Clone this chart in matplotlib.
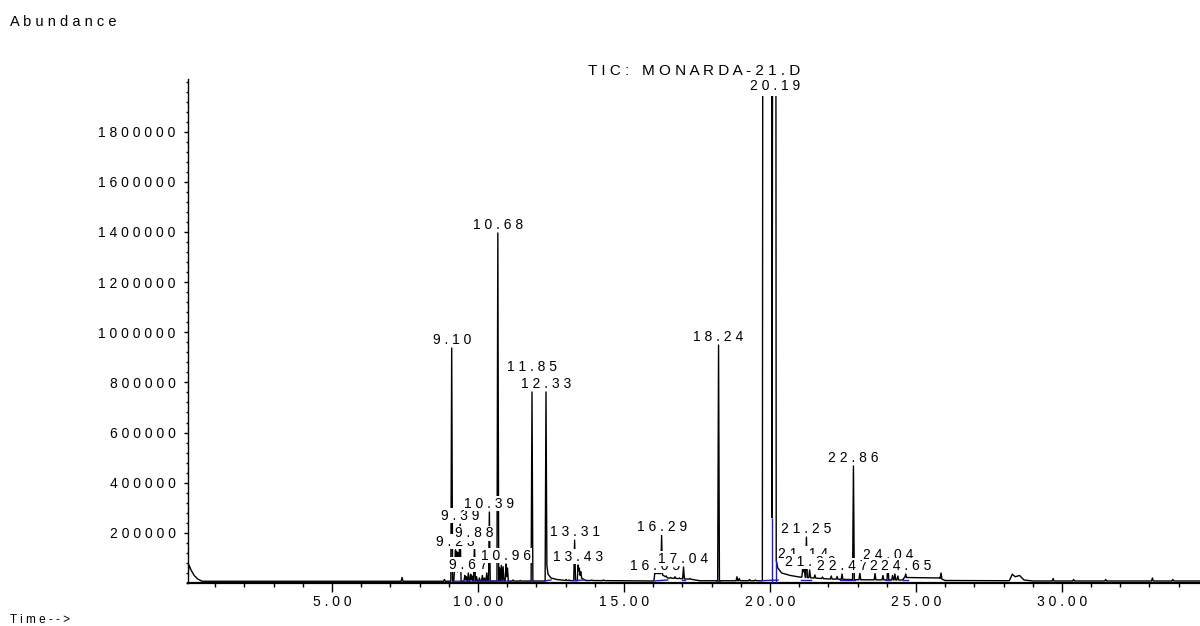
import numpy as np
import matplotlib.pyplot as plt
from matplotlib.ticker import FuncFormatter, MultipleLocator

plt.rcParams["font.family"] = ["Liberation Sans", "DejaVu Sans"]

# integrated peaks: retention time (min) and apex abundance
peak_rt = [9.10, 9.23, 9.39, 9.67, 9.88, 10.39, 10.68, 10.96, 11.85, 12.33,
           13.31, 13.43, 16.05, 16.29, 17.04, 18.24, 21.14, 21.25, 21.36,
           22.47, 22.86, 24.04, 24.28, 24.65]
peak_height = [937000, 132000, 235000, 40000, 164000, 283000, 1396000, 76000,
               762000, 762000, 171000, 72000, 36000, 190000, 64000, 949000,
               84000, 183000, 52000, 36000, 467000, 80000, 36000, 36000]
peak_label = ["9.10", "9.23", "9.39", "9.67", "9.88", "10.39", "10.68", "10.96",
              "11.85", "12.33", "13.31", "13.43", "16.05", "16.29", "17.04",
              "18.24", "21.14", "21.25", "21.36", "22.47", "22.86", "24.04",
              "24.28", "24.65"]

# overloaded main peak, apex above the plotted range
main_rt = 20.19
main_label = "20.19"

# small unlabelled peaks
minor_rt = [7.40, 8.85, 9.20, 9.27, 9.32, 9.36, 9.55, 9.60, 9.75, 9.80, 9.95,
            10.05, 10.15, 10.22, 10.30, 10.74, 10.80, 10.86, 11.01, 11.20,
            11.45, 13.02, 13.12, 13.47, 13.52, 13.90, 14.30, 16.45, 16.60,
            16.75, 16.90, 17.25, 18.87, 18.95, 19.30, 19.50, 21.12, 21.18,
            21.54, 21.80, 22.10, 22.30, 23.08, 23.60, 23.87, 24.20, 24.38,
            25.86, 29.70, 30.40, 31.50, 33.10, 33.80]
minor_height = [22000, 14000, 60000, 125000, 120000, 115000, 30000, 25000,
                35000, 28000, 25000, 20000, 30000, 20000, 40000, 60000, 70000,
                65000, 60000, 12000, 10000, 14000, 12000, 60000, 45000, 12000,
                12000, 28000, 22000, 25000, 20000, 18000, 25000, 18000, 14000,
                12000, 50000, 55000, 32000, 24000, 28000, 26000, 40000, 38000,
                30000, 30000, 28000, 40000, 18000, 14000, 14000, 20000, 14000]

# detector baseline, solvent front, peak tails and the saturated region
base_t = [0.05, 0.10, 0.18, 0.28, 0.40, 0.55, 9.0, 12.30, 12.36, 12.40,
          12.50, 12.70, 13.00, 13.40, 13.46, 13.70, 16.04, 16.07, 16.25,
          16.35, 16.50, 17.30, 17.60, 19.74, 19.76, 20.06, 20.075, 20.095,
          20.20, 20.215, 20.27, 20.40, 20.70, 21.00, 21.50, 22.00, 23.00,
          24.55, 24.60, 25.80, 26.00, 28.20, 28.30, 28.40, 28.55, 28.70,
          29.00, 34.80]
base_y = [8000, 72000, 50000, 30000, 16000, 7000, 7000, 8000, 70000, 35000,
          20000, 14000, 10000, 9000, 25000, 10000, 8000, 38000, 38000,
          30000, 20000, 15000, 9000, 9000, 3000000, 3000000, 260000, 3000000,
          3000000, 90000, 60000, 40000, 30000, 24000, 20000, 16000, 13000,
          12000, 22000, 20000, 10000, 9000, 35000, 25000, 30000, 12000,
          8000, 8000]

# integration baselines and drop lines
blue_spans = [(9.15, 9.50), (9.50, 11.05), (11.80, 11.90), (12.28, 12.50),
              (13.25, 13.65), (16.02, 16.50), (17.00, 17.10), (18.15, 18.30),
              (19.68, 20.28), (21.08, 21.42), (22.40, 22.92), (23.98, 24.10),
              (24.55, 24.72)]
blue_drops = [20.075, 20.215]

label_lift = {"11.85": 12}


def spaced(s):
    return " ".join(s)


# assemble the trace: baseline plus a narrow spike for every peak
spike_t = np.array(peak_rt + minor_rt)
spike_h = np.array(peak_height + minor_height, dtype=float)
hw = 0.03
knots = np.unique(np.concatenate([base_t, spike_t - hw, spike_t, spike_t + hw]))
trace = np.interp(knots, base_t, base_y)
for t0, h in zip(spike_t, spike_h):
    rise = h - np.interp(t0, base_t, base_y)
    trace += np.clip(rise * (1 - np.abs(knots - t0) / hw), 0, None)

fig = plt.figure(figsize=(12, 6.26), dpi=100)
ax = fig.add_axes([188 / 1200, 43 / 626, 1012 / 1200, 504 / 626])

ax.plot(knots, trace, color="black", lw=1.0, zorder=2)

blue = "#2020a8"
for t0, t1 in blue_spans:
    ends = np.minimum(np.interp([t0, t1], knots, trace), 12000)
    ax.plot([t0, t1], ends, color=blue, lw=1.0, zorder=3)
ax.vlines(blue_drops, 0, np.interp(blue_drops, knots, trace), color=blue,
          lw=1.0, zorder=3)

ymax = 2010000
ax.set_xlim(0.068, 34.73)
ax.set_ylim(0, ymax)

box = dict(boxstyle="square,pad=0.05", fc="white", ec="none")
for t0, h, lab in zip(peak_rt, peak_height, peak_label):
    ax.annotate(spaced(lab), (t0, h), xytext=(0, 1 + label_lift.get(lab, 0)),
                textcoords="offset points", ha="center", va="bottom",
                fontsize=10, bbox=box, zorder=5)
ax.annotate(spaced(main_label), (main_rt, ymax), xytext=(0, 0),
            textcoords="offset points", ha="center", va="top", fontsize=10,
            bbox=dict(boxstyle="square,pad=0.25", fc="white", ec="none"),
            zorder=5, annotation_clip=False)

ax.xaxis.set_major_locator(MultipleLocator(5))
ax.xaxis.set_minor_locator(MultipleLocator(1))
ax.xaxis.set_major_formatter(FuncFormatter(lambda v, p: spaced(f"{v:.2f}")))
ax.set_yticks(np.arange(200000, 1800001, 200000))
ax.yaxis.set_minor_locator(MultipleLocator(40000))
ax.yaxis.set_major_formatter(FuncFormatter(lambda v, p: spaced(f"{int(v)}")))

ax.tick_params(axis="x", which="major", length=6.5, width=1.0, pad=2,
               labelsize=10)
ax.tick_params(axis="x", which="minor", length=3, width=1.0)
ax.tick_params(axis="y", which="major", length=3, width=1.0, pad=6,
               labelsize=10)
ax.tick_params(axis="y", which="minor", length=1.8, width=1.0)

for side in ("top", "right"):
    ax.spines[side].set_visible(False)
ax.spines["left"].set_linewidth(1.0)
ax.spines["bottom"].set_linewidth(1.6)

ax.set_title(spaced("TIC: MONARDA-21.D"), fontsize=11, pad=3)
fig.text(10 / 1200, 1 - 22 / 626, spaced("Abundance"), fontsize=10.5,
         ha="left", va="center")
fig.text(10 / 1200, 1 - 620 / 626, spaced("Time-->"), fontsize=8.5,
         ha="left", va="center")

fig.savefig("out.png", dpi=100)
